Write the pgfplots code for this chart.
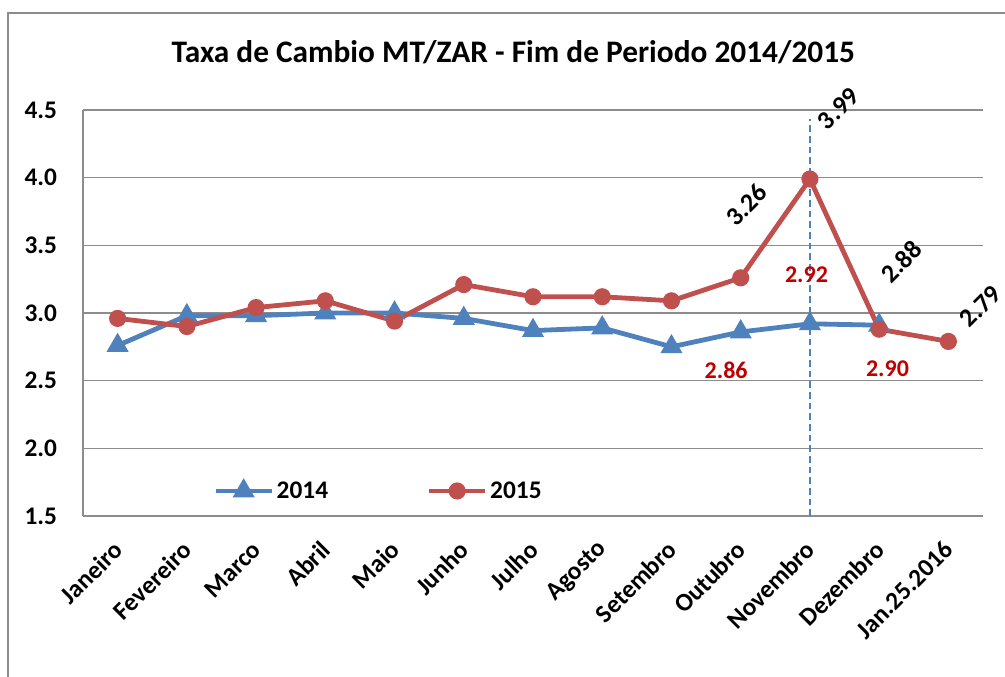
\documentclass[border=0pt]{standalone}
\usepackage{pgfplots}
\pgfplotsset{compat=1.18}
\usepackage{fontspec}
\setmainfont{Carlito}
\definecolor{cblue}{HTML}{4F81BD}
\definecolor{cred}{HTML}{C0504D}
\definecolor{lred}{HTML}{C00000}
\definecolor{cgrid}{HTML}{8C8C8C}
\begin{document}
\begin{tikzpicture}[font=\bfseries]
\useasboundingbox (0,0) rectangle (753.75pt,507.75pt);
\draw[cgrid, line width=1pt] (6pt,-20pt) rectangle (780pt,498pt);
\node[font=\bfseries\fontsize{23.5}{28}\selectfont, anchor=base] at (385pt,461pt) {Taxa de Cambio MT/ZAR - Fim de Periodo 2014/2015};
\begin{axis}[
  at={(62.25pt,120.75pt)}, anchor=south west,
  scale only axis, width=675pt, height=304.5pt,
  xmin=-0.5, xmax=12.5, ymin=1.5, ymax=4.5,
  clip=false,
  axis x line*=bottom, axis y line*=left,
  axis line style={cgrid, line width=1pt},
  ymajorgrids, grid style={cgrid, line width=1pt},
  ytick={1.5,2,...,4.5},
  xtick={0,...,12},
  xticklabels={Janeiro,Fevereiro,Marco,Abril,Maio,Junho,Julho,Agosto,Setembro,Outubro,Novembro,Dezembro,Jan.25.2016},
  major tick length=0pt,
  tick label style={font=\bfseries\fontsize{19}{21}\selectfont},
  /pgf/number format/fixed, /pgf/number format/fixed zerofill, /pgf/number format/precision=1, /pgf/number format/assume math mode=true,
  yticklabel style={anchor=east, xshift=-16pt},
  xticklabel style={rotate=45, anchor=east, xshift=-12pt, yshift=-16pt},
  legend style={at={(0.14,0.0616)}, anchor=west, draw=none, fill=none,
    font=\bfseries\fontsize{19}{21}\selectfont, /tikz/every even column/.append style={column sep=72pt}},
  legend columns=2,
  legend image code/.code={\draw[mark repeat=2,mark phase=2] plot coordinates {(0pt,0pt) (21pt,0pt) (42pt,0pt)};},
]
\addplot[cblue, line width=3.6pt, mark=triangle*, mark size=6pt, mark options={solid}] coordinates {
(0,2.76) (1,2.98) (2,2.98) (3,3.00) (4,3.00) (5,2.96) (6,2.87) (7,2.89) (8,2.75) (9,2.86) (10,2.92) (11,2.91)};
\addlegendentry{2014}
\addplot[cred, line width=3.6pt, mark=*, mark size=4.6pt] coordinates {
(0,2.96) (1,2.90) (2,3.04) (3,3.09) (4,2.94) (5,3.21) (6,3.12) (7,3.12) (8,3.09) (9,3.26) (10,3.99) (11,2.88) (12,2.79)};
\addlegendentry{2015}
\addplot[cblue, dash pattern=on 5pt off 3pt, line width=1pt, forget plot] coordinates {(10,1.5) (10,4.43)};
\begin{scope}[font=\bfseries\fontsize{19.5}{22}\selectfont]
\node[rotate=45] at (axis cs:9.08,3.80) {3.26};
\node[rotate=45] at (axis cs:10.41,4.51) {3.99};
\node[rotate=45] at (axis cs:11.32,3.38) {2.88};
\node[rotate=45] at (axis cs:12.46,3.05) {2.79};
\end{scope}
\begin{scope}[font=\bfseries\fontsize{18}{20}\selectfont]
\node[text=lred] at (axis cs:8.79,2.58) {2.86};
\node[text=lred] at (axis cs:9.95,3.28) {2.92};
\node[text=lred] at (axis cs:11.12,2.59) {2.90};
\end{scope}
\end{axis}
\end{tikzpicture}
\end{document}
